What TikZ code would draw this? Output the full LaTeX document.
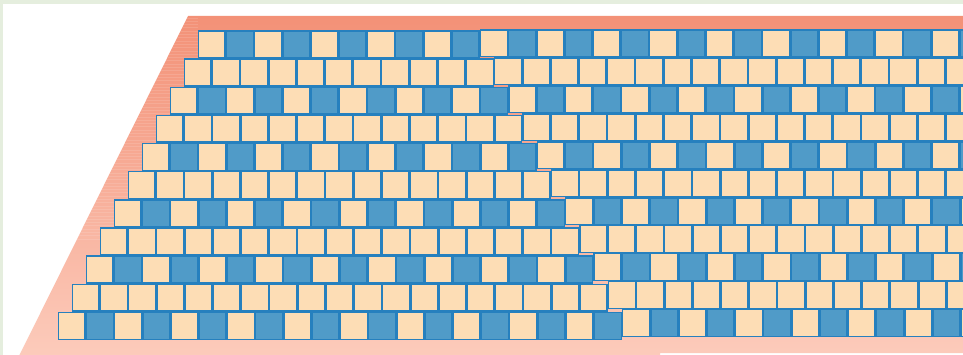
\documentclass[tikz,border=0pt]{standalone}
\definecolor{framegreen}{RGB}{229,238,222}
\definecolor{pinktop}{RGB}{243,145,119}
\definecolor{pinkmid}{RGB}{248,174,150}
\definecolor{pinkbot}{RGB}{252,203,187}
\definecolor{cream}{RGB}{253,221,181}
\definecolor{bluecell}{RGB}{80,155,200}
\definecolor{celledge}{RGB}{38,128,190}
\tikzset{
  creamcell/.style={fill=cream,draw=celledge,line width=1.4pt},
  bluecellst/.style={fill=bluecell,draw=celledge,line width=1.4pt},
  stripe/.style={white,opacity=0.12,line width=0.8pt}
}
\begin{document}
\begin{tikzpicture}[x=1pt,y=-1pt]
\useasboundingbox (0,0) rectangle (963,355);
\clip (0,0) rectangle (963,355);
% frame
\fill[framegreen] (0,0) rectangle (963,355);
\fill[white] (3,4) rectangle (963,355);
% pink substrate
\shade[top color=pinktop, middle color=pinkmid, bottom color=pinkbot]
  (188,16) -- (963,16) -- (963,353) -- (660,353) -- (660,356) -- (19,356) -- cycle;
\begin{scope}
  \clip (188,16) -- (963,16) -- (963,353) -- (19,356) -- cycle;
  \foreach \yy in {18,21.3,...,240} \draw[stripe] (0,\yy) -- (198,\yy);
\end{scope}
% lattice
\foreach \r in {0,...,10} {
  \pgfmathsetmacro\xo{197.5-14*\r}
  \pgfmathsetmacro\yl{30.3+28.15*\r}
  \pgfmathsetmacro\yr{29.3+27.97*\r}
  \pgfmathtruncatemacro\nl{9+\r}
  \pgfmathtruncatemacro\ns{10+\r}
  \foreach \k in {0,...,\nl} {
    \pgfmathtruncatemacro\isblue{(1-mod(\r,2))*mod(\k,2)}
    \ifnum\isblue=1 \def\cst{bluecellst}\else\def\cst{creamcell}\fi
    \draw[\cst] (\xo+\k*28.22+0.7,\yl+0.7) rectangle ++(26.82,26.75);
  }
  \foreach \k in {\ns,...,33} {
    \pgfmathtruncatemacro\isblue{(1-mod(\r,2))*mod(\k,2)}
    \ifnum\isblue=1 \def\cst{bluecellst}\else\def\cst{creamcell}\fi
    \draw[\cst] (\xo+\k*28.22+0.7,\yr+0.7) rectangle ++(26.82,26.57);
  }
}
\end{tikzpicture}
\end{document}
